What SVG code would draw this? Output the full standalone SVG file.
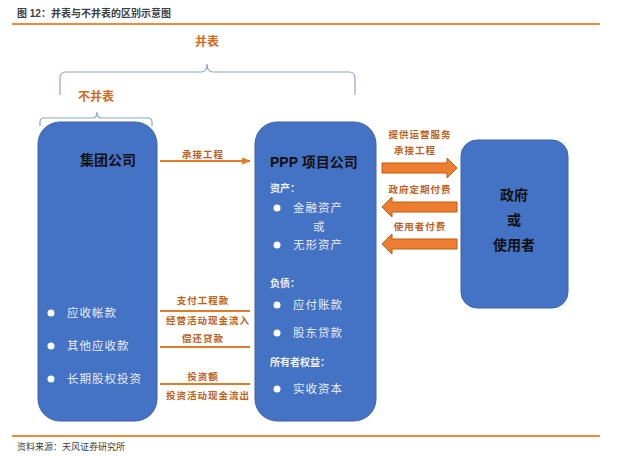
<svg xmlns="http://www.w3.org/2000/svg" width="640" height="456" viewBox="0 0 640 456">
<defs>
<style>
.cjk{font-family:"Liberation Sans","Noto Sans CJK SC",sans-serif}
.title{font-size:10px;font-weight:bold;fill:#404040}
.src{font-size:9px;fill:#404040}
.rule{stroke:#ED8B3A;stroke-width:2}
.brace{fill:none;stroke:#8FA6C6;stroke-width:1.2}
.blabel{font-size:12px;font-weight:bold;fill:#D2691E;text-anchor:middle}
.box{fill:#4472C4;stroke:#3B63AD;stroke-width:1}
.head{font-size:14px;font-weight:bold;fill:#111}
.sub{font-size:10px;font-weight:bold;fill:#F0F3FA}
.item{font-size:11.5px;fill:#E8EDF7;letter-spacing:1px}
.dot{fill:#FFFFFF}
.lab{font-size:9.5px;font-weight:bold;fill:#C0601A;text-anchor:middle;letter-spacing:1px}
.line{stroke:#E07B2A;stroke-width:2.2;fill:none}
.blk{fill:#ED7D31;stroke:#C55A11;stroke-width:1}
</style>
<marker id="ah" viewBox="0 0 10 10" refX="9" refY="5" markerWidth="4" markerHeight="4" orient="auto">
<path d="M0,1 L10,5 L0,9 z" fill="#E07B2A"/>
</marker>
</defs>
<rect width="640" height="456" fill="#FFFFFF"/>
<text class="cjk title" x="17" y="17">图 12：并表与不并表的区别示意图</text>
<line class="rule" x1="12" y1="24" x2="600" y2="24"/>
<line class="rule" x1="12" y1="436" x2="600" y2="436" stroke-width="1.5"/>
<text class="cjk src" x="17" y="450">资料来源：天风证券研究所</text>

<g id="braces">
<text class="cjk blabel" x="207" y="46">并表</text>
<path class="brace" d="M60,95 L60,78 Q60,72 66,72 L201,72 Q207,72 207,64 Q207,72 213,72 L349,72 Q355,72 355,78 L355,95"/>
<text class="cjk blabel" x="96" y="101">不并表</text>
<path class="brace" d="M40,126 L40,122 Q40,118 44,118 L93,118 Q97,118 97,112 Q97,118 101,118 L148,118 Q152,118 152,122 L152,126"/>
</g>

<g id="group-company">
<rect class="box" x="38" y="122" width="119" height="299" rx="22"/>
<text class="cjk head" x="80" y="165">集团公司</text>
<circle class="dot" cx="51" cy="313" r="3.5"/>
<text class="cjk item" x="67" y="317">应收帐款</text>
<circle class="dot" cx="51" cy="346" r="3.5"/>
<text class="cjk item" x="67" y="350">其他应收款</text>
<circle class="dot" cx="51" cy="379" r="3.5"/>
<text class="cjk item" x="67" y="383">长期股权投资</text>
</g>

<g id="ppp-company">
<rect class="box" x="255" y="122" width="121" height="299" rx="22"/>
<text class="cjk head" x="270" y="167">PPP 项目公司</text>
<text class="cjk sub" x="270" y="192">资产：</text>
<circle class="dot" cx="277" cy="208" r="3.5"/>
<text class="cjk item" x="293" y="212">金融资产</text>
<text class="cjk item" x="313" y="231">或</text>
<circle class="dot" cx="277" cy="245" r="3.5"/>
<text class="cjk item" x="293" y="249">无形资产</text>
<text class="cjk sub" x="270" y="287">负债：</text>
<circle class="dot" cx="277" cy="305" r="3.5"/>
<text class="cjk item" x="293" y="309">应付账款</text>
<circle class="dot" cx="277" cy="333" r="3.5"/>
<text class="cjk item" x="293" y="337">股东贷款</text>
<text class="cjk sub" x="270" y="366">所有者权益：</text>
<circle class="dot" cx="277" cy="389" r="3.5"/>
<text class="cjk item" x="293" y="393">实收资本</text>
</g>

<g id="government">
<rect class="box" x="461" y="140" width="107" height="168" rx="16"/>
<text class="cjk head" x="514" y="200" text-anchor="middle" font-size="13">政府</text>
<text class="cjk head" x="514" y="225" text-anchor="middle" font-size="13">或</text>
<text class="cjk head" x="514" y="250" text-anchor="middle" font-size="13">使用者</text>
</g>

<g id="connectors">
<text class="cjk lab" x="203" y="158">承接工程</text>
<line class="line" x1="160" y1="161" x2="250" y2="161" marker-end="url(#ah)"/>

<text class="cjk lab" x="203" y="304">支付工程款</text>
<line class="line" x1="160" y1="311" x2="250" y2="311"/>
<text class="cjk lab" x="208" y="324">经营活动现金流入</text>
<text class="cjk lab" x="203" y="342">偿还贷款</text>
<line class="line" x1="160" y1="347" x2="250" y2="347"/>
<text class="cjk lab" x="203" y="380">投资额</text>
<line class="line" x1="160" y1="384" x2="250" y2="384"/>
<text class="cjk lab" x="208" y="399">投资活动现金流出</text>

<text class="cjk lab" x="420" y="138">提供运营服务</text>
<text class="cjk lab" x="415" y="154">承接工程</text>
<path class="blk" d="M382,163 L447,163 L447,158 L457,168 L447,178 L447,173 L382,173 Z"/>
<text class="cjk lab" x="420" y="193">政府定期付费</text>
<path class="blk" d="M457,202 L392,202 L392,197 L382,207 L392,217 L392,212 L457,212 Z"/>
<text class="cjk lab" x="420" y="230">使用者付费</text>
<path class="blk" d="M457,239 L392,239 L392,234 L382,244 L392,254 L392,249 L457,249 Z"/>
</g>
</svg>
